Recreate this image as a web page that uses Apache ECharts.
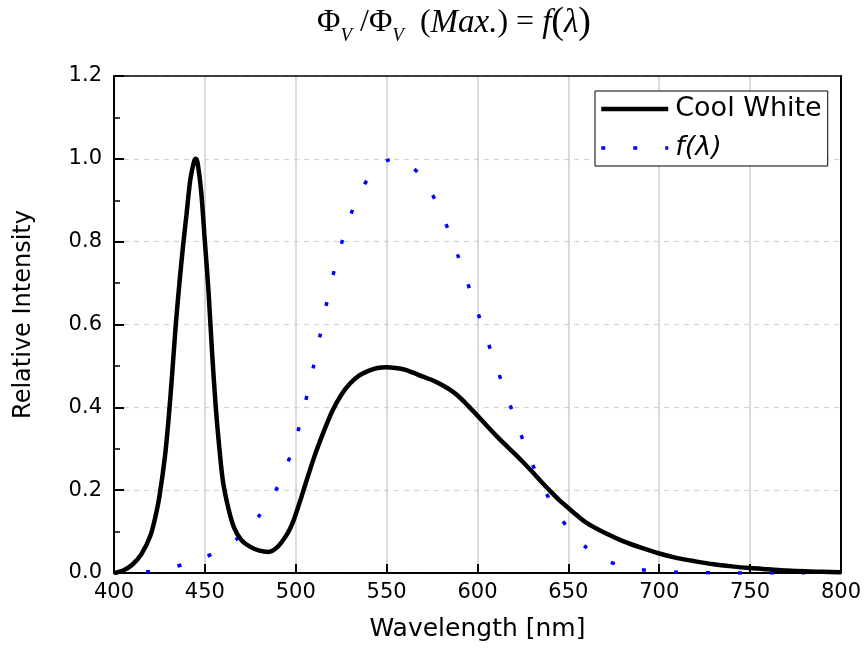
<!DOCTYPE html>
<html>
<head>
<meta charset="utf-8">
<script src="https://cdn.jsdelivr.net/npm/echarts@6/dist/echarts.min.js"></script>
<style>
  html, body { margin: 0; padding: 0; background: #fff; }
  #main { width: 864px; height: 648px; }
</style>
</head>
<body>
<div id="main"></div>
<script>
// Cool White LED spectrum (relative intensity)
var coolWl = [400, 405, 410, 415, 420, 423, 425, 428, 430, 432, 434, 436, 438, 440, 442, 444, 445, 446, 448, 450,
  452, 454, 456, 458, 460, 463, 466, 470, 475, 480, 485, 490, 495, 498, 500, 503, 505, 510, 515, 520,
  525, 530, 535, 540, 545, 550, 555, 560, 565, 570, 575, 580, 585, 590, 595, 600, 605, 610, 615, 620,
  625, 630, 635, 640, 645, 650, 655, 660, 670, 680, 690, 700, 710, 720, 730, 740, 750, 760, 770, 780, 790, 800];
var coolVal = [0.0, 0.006, 0.02, 0.045, 0.09, 0.14, 0.185, 0.28, 0.37, 0.48, 0.6, 0.7, 0.79, 0.87, 0.95, 0.993, 1.0, 0.99, 0.92, 0.8,
  0.68, 0.53, 0.4, 0.3, 0.22, 0.155, 0.11, 0.08, 0.063, 0.054, 0.051, 0.063, 0.092, 0.118, 0.142, 0.182, 0.21, 0.278, 0.337, 0.39,
  0.43, 0.458, 0.477, 0.488, 0.495, 0.497, 0.495, 0.491, 0.483, 0.474, 0.466, 0.455, 0.442, 0.425, 0.403, 0.38, 0.356, 0.333, 0.311, 0.29,
  0.268, 0.245, 0.221, 0.198, 0.176, 0.157, 0.138, 0.121, 0.097, 0.077, 0.061, 0.047, 0.036, 0.028, 0.021, 0.016, 0.012, 0.009, 0.006, 0.004, 0.003, 0.002];

// photopic luminosity function f(lambda)
var fWl = [400, 410, 420, 430, 440, 450, 460, 470, 480, 490, 500, 510, 520, 530, 540, 550, 555, 560, 570, 580,
  590, 600, 610, 620, 630, 640, 650, 660, 670, 680, 690, 700, 710, 720, 730, 740, 750, 760, 770, 780];
var fVal = [0.0004, 0.0012, 0.004, 0.0116, 0.023, 0.038, 0.06, 0.091, 0.139, 0.208, 0.323, 0.503, 0.71, 0.862, 0.954, 0.995, 1.0, 0.995, 0.952, 0.87,
  0.757, 0.631, 0.503, 0.381, 0.265, 0.175, 0.107, 0.061, 0.032, 0.017, 0.0082, 0.0041, 0.0021, 0.001, 0.0005, 0.00025, 0.00012, 0.00006, 0.00003, 0.000015];

var xTicks = [400, 450, 500, 550, 600, 650, 700, 750, 800];
var yTicks = [0.0, 0.2, 0.4, 0.6, 0.8, 1.0, 1.2];

function pairs(xs, ys) {
  return xs.map(function (x, i) { return [x, ys[i]]; });
}

function initChart() {
  var chartDom = document.getElementById('main');
  var myChart = echarts.init(chartDom);
  var sans = 'DejaVu Sans';
  var serif = 'Liberation Serif';
  var option = {
    backgroundColor: '#fff',
    animation: false,
    title: {
      text: '{r|Φ}{s|V}{r| /Φ}{s|V}{r|  (}{i|Max.}{r|) = }{i|f}{p|(}{i|λ}{p|)}',
      left: 317,
      top: 0,
      padding: 0,
      textStyle: {
        fontWeight: 'normal',
        rich: {
          r: { fontFamily: serif, fontSize: 32, lineHeight: 46, fontWeight: 'normal', color: '#000' },
          i: { fontFamily: serif, fontSize: 33, lineHeight: 46, fontWeight: 'normal', fontStyle: 'italic', color: '#000' },
          p: { fontFamily: serif, fontSize: 38, lineHeight: 46, fontWeight: 'normal', color: '#000' },
          s: { fontFamily: serif, fontSize: 19, lineHeight: 19, fontWeight: 'normal', fontStyle: 'italic', padding: [26, 0, 0, 0], color: '#000' }
        }
      }
    },
    legend: {
      orient: 'vertical',
      left: 595,
      top: 91,
      padding: [3, 6, 3, 4],
      itemWidth: 67,
      itemHeight: 20,
      itemGap: 9,
      borderColor: '#000',
      borderWidth: 1,
      backgroundColor: '#fff',
      itemStyle: { opacity: 0 },
      textStyle: { fontFamily: sans, fontSize: 27, lineHeight: 30, color: '#000', padding: [0, 0, 0, 2] },
      data: [
        { name: 'Cool White', lineStyle: { width: 4.5, color: '#000', type: 'solid' } },
        { name: 'f(λ)', lineStyle: { width: 3.5, color: '#0000ff', type: [4, 28], cap: 'butt' }, textStyle: { fontStyle: 'italic' } }
      ]
    },
    grid: { left: 114, right: 22, top: 76, bottom: 75 },
    xAxis: [
      {
        type: 'value',
        min: xTicks[0],
        max: xTicks[xTicks.length - 1],
        interval: 50,
        name: 'Wavelength [nm]',
        nameLocation: 'middle',
        nameGap: 44,
        nameTextStyle: { fontFamily: sans, fontSize: 25, color: '#000' },
        axisLine: { show: true, onZero: false, lineStyle: { color: '#000', width: 2 } },
        axisTick: { show: true, inside: true, length: 9, lineStyle: { color: '#000', width: 2 } },
        axisLabel: { fontFamily: sans, fontSize: 21, color: '#000', margin: 9 },
        splitLine: { show: true, lineStyle: { color: '#cfcfcf', width: 1.5, type: 'solid' } }
      },
      {
        type: 'value',
        position: 'top',
        min: xTicks[0],
        max: xTicks[xTicks.length - 1],
        axisLine: { show: true, onZero: false, lineStyle: { color: '#000', width: 1.5 } },
        axisTick: { show: false },
        axisLabel: { show: false },
        splitLine: { show: false }
      }
    ],
    yAxis: [
      {
        type: 'value',
        min: yTicks[0],
        max: yTicks[yTicks.length - 1],
        interval: 0.2,
        name: 'Relative Intensity',
        nameLocation: 'middle',
        nameGap: 78,
        nameTextStyle: { fontFamily: sans, fontSize: 24, color: '#000', padding: [0, 0, 0, 20] },
        axisLine: { show: true, onZero: false, lineStyle: { color: '#000', width: 2 } },
        axisTick: { show: true, inside: true, length: 10, lineStyle: { color: '#000', width: 2 } },
        minorTick: { show: true, splitNumber: 2, length: 6, lineStyle: { color: '#000', width: 1.5 } },
        axisLabel: {
          fontFamily: sans, fontSize: 21, color: '#000', margin: 12,
          formatter: function (v) { return v.toFixed(1); }
        },
        splitLine: { show: true, lineStyle: { color: '#d4d4d4', width: 1.2, type: [5, 5] } }
      },
      {
        type: 'value',
        position: 'right',
        min: yTicks[0],
        max: yTicks[yTicks.length - 1],
        axisLine: { show: true, onZero: false, lineStyle: { color: '#000', width: 2 } },
        axisTick: { show: false },
        axisLabel: { show: false },
        splitLine: { show: false }
      }
    ],
    series: [
      {
        name: 'Cool White',
        type: 'line',
        data: pairs(coolWl, coolVal),
        symbol: 'none',
        smooth: 0.3,
        lineStyle: { color: '#000', width: 4.5 },
        itemStyle: { color: '#000' },
        z: 3
      },
      {
        name: 'f(λ)',
        type: 'line',
        data: pairs(fWl, fVal),
        symbol: 'none',
        smooth: 0.3,
        lineStyle: { color: '#0000ff', width: 3.5, type: [4, 28], cap: 'butt' },
        itemStyle: { color: '#0000ff' },
        z: 2
      }
    ]
  };
  option && myChart.setOption(option);
}

document.addEventListener('DOMContentLoaded', function () {
  initChart();
});
</script>
</body>
</html>
